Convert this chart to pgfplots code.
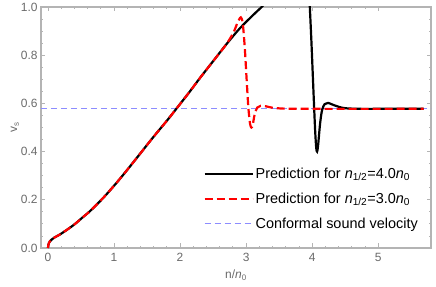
\documentclass[border=0pt]{standalone}
\usepackage{pgfplots}
\pgfplotsset{compat=1.18}
\usepackage{fontspec}
\setmainfont{Liberation Sans}
\definecolor{framegray}{HTML}{B4B4B4}
\definecolor{labgray}{HTML}{6A6A6A}
\definecolor{confblue}{HTML}{8C8CFF}
\begin{document}
\begin{tikzpicture}
\begin{axis}[
  scale only axis,
  width=390bp, height=241bp,
  xmin=-0.106, xmax=5.80,
  ymin=0, ymax=1.0,
  xtick={0,1,2,3,4,5},
  ytick={0,0.2,0.4,0.6,0.8,1.0},
  minor x tick num=4,
  minor y tick num=3,
  tick align=inside,
  tick pos=both,
  major tick length=4.5bp,
  minor tick length=2.5bp,
  axis line style={framegray, line width=1.3bp},
  every tick/.style={framegray, line width=0.8bp},
  /pgf/number format/assume math mode=true,
  tick label style={font=\fontsize{12}{14}\selectfont, text=labgray},
  yticklabel style={/pgf/number format/.cd, fixed, fixed zerofill, precision=1},
  xticklabel style={yshift=-2bp},
  xlabel={n/\textit{n}\textsubscript{0}},
  ylabel={v\textsubscript{s}},
  label style={font=\fontsize{12}{14}\selectfont, text=labgray},
  xlabel style={yshift=-1bp},
  ylabel style={yshift=-5bp},
  clip=true,
  legend cell align=left,
  legend style={at={(1,0)}, anchor=south east, xshift=-8bp, yshift=14bp,
    draw=none, fill=none, font=\fontsize{14.5}{17}\selectfont,
    row sep=9bp},
  legend image code/.code={\draw[#1] (0bp,0bp) -- (48bp,0bp);},
]
% conformal line (drawn first, underneath)
\addplot[confblue, line width=0.8bp, dash pattern=on 6bp off 4bp, forget plot] coordinates {(-0.106,0.57735) (5.80,0.57735)};
% black n_1/2 = 4.0 n0
\addplot[black, line width=2.2bp, smooth, tension=0.5] coordinates {
(0,0) (0.005,0.012) (0.015,0.021) (0.03,0.028) (0.06,0.036) (0.1,0.044)
(0.18,0.056) (0.3,0.078) (0.41,0.100) (0.52,0.126) (0.64,0.154) (0.84,0.209)
(1.04,0.271) (1.22,0.331) (1.4,0.393) (1.6,0.462) (1.8,0.528) (1.95,0.580)
(2.15,0.650) (2.3,0.705) (2.5,0.775) (2.7,0.845) (2.9,0.910) (3.1,0.965)
(3.235,1.0) (3.30,1.02)};
\addlegendentry{Prediction for \textit{n}\textsubscript{1/2}=4.0\textit{n}\textsubscript{0}}
\addplot[black, line width=2.2bp, smooth, tension=0.5, forget plot] coordinates {
(3.94,1.15) (3.965,1.0) (3.99,0.85) (4.02,0.65) (4.045,0.49) (4.062,0.415)
(4.075,0.400) (4.09,0.425) (4.12,0.515) (4.15,0.572) (4.19,0.597) (4.24,0.602)
(4.30,0.596) (4.40,0.586) (4.50,0.580) (4.70,0.5775) (5.0,0.5774) (5.69,0.5774)};
% red n_1/2 = 3.0 n0
\addplot[red, line width=2.2bp, dash pattern=on 8bp off 4bp, smooth, tension=0.5] coordinates {
(0,0) (0.005,0.012) (0.015,0.021) (0.03,0.028) (0.06,0.036) (0.1,0.044)
(0.18,0.056) (0.3,0.078) (0.41,0.100) (0.52,0.126) (0.64,0.154) (0.84,0.209)
(1.04,0.271) (1.22,0.331) (1.4,0.393) (1.6,0.462) (1.8,0.528) (1.95,0.580)
(2.15,0.650) (2.3,0.705) (2.5,0.775) (2.7,0.845) (2.81,0.895) (2.87,0.935)
(2.92,0.957) (2.95,0.93) (2.98,0.83) (3.01,0.69) (3.035,0.58) (3.06,0.515)
(3.08,0.500) (3.10,0.510) (3.13,0.555) (3.17,0.583) (3.22,0.590) (3.30,0.588)
(3.40,0.582) (3.60,0.578) (4.0,0.5774) (5.69,0.5774)};
\addlegendentry{Prediction for \textit{n}\textsubscript{1/2}=3.0\textit{n}\textsubscript{0}}
\addlegendimage{confblue, line width=0.8bp, dash pattern=on 6bp off 4bp}
\addlegendentry{Conformal sound velocity}
\end{axis}
\pgfresetboundingbox
\path ([xshift=-41bp,yshift=-39bp]current axis.south west) rectangle ([xshift=5bp,yshift=7bp]current axis.north east);
\end{tikzpicture}
\end{document}
